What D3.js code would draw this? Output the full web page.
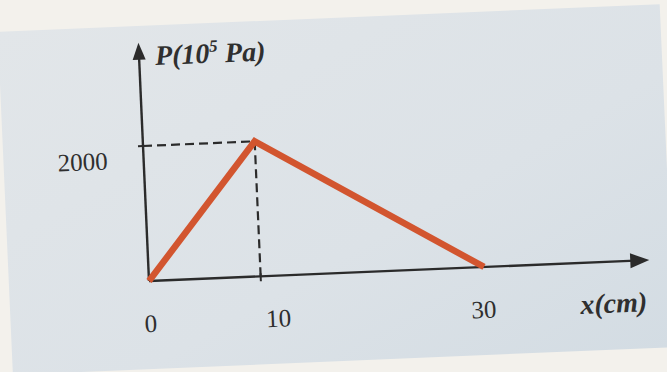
<!DOCTYPE html>
<html>
<head>
<meta charset="utf-8">
<script src="https://cdn.jsdelivr.net/npm/d3@7"></script>
<style>
  html, body { margin: 0; padding: 0; background: #f3f1ec; }
  svg { display: block; }
</style>
</head>
<body>
<svg id="chart" width="667" height="372"></svg>
<script>
// Pressure profile along the barrel
const positions = [0, 10, 30];      // x (cm)
const pressures = [0, 2000, 0];     // P (10^5 Pa)
const xTickValues = [0, 10, 30];
const yTickValues = [2000];
const xAxisEnd = 44.8;              // axis arrows run past the data
const yAxisEnd = 3530;

const W = 667, H = 372;
const svg = d3.select("#chart");

const defs = svg.append("defs");
const grad = defs.append("linearGradient")
  .attr("id", "panelFill").attr("x1", "0").attr("y1", "0").attr("x2", "1").attr("y2", "1");
grad.append("stop").attr("offset", "0").attr("stop-color", "#e2e6e9");
grad.append("stop").attr("offset", "0.6").attr("stop-color", "#dce2e7");
grad.append("stop").attr("offset", "1").attr("stop-color", "#d3dce3");

// page
svg.append("rect").attr("width", W).attr("height", H).attr("fill", "#f3f1ec");

// the figure sits slightly skewed on the page
const g = svg.append("g").attr("transform", "matrix(1,-0.0419,0.0444,1,149,281)");

const x = d3.scaleLinear().domain([0, 30]).range([0, 335]);
const y = d3.scaleLinear().domain([0, 2000]).range([0, -135]);

// tinted panel behind the figure
g.append("rect")
  .attr("x", -140).attr("y", -255).attr("width", 662).attr("height", 343)
  .attr("fill", "url(#panelFill)");

const ink = "#2b2b2b";

// axes
g.append("line")
  .attr("x1", x(0)).attr("y1", y(0)).attr("x2", x(xAxisEnd) - 14).attr("y2", y(0))
  .attr("stroke", ink).attr("stroke-width", 2.4);
g.append("line")
  .attr("x1", x(0)).attr("y1", y(0)).attr("x2", x(0)).attr("y2", y(yAxisEnd) + 12)
  .attr("stroke", ink).attr("stroke-width", 2.4);

// arrow heads
const xa = x(xAxisEnd), ya = y(yAxisEnd);
g.append("path")
  .attr("d", `M${xa},${y(0)} L${xa - 19},${y(0) - 7.5} L${xa - 19},${y(0) + 7.5} Z`)
  .attr("fill", ink);
g.append("path")
  .attr("d", `M${x(0)},${ya} L${x(0) - 6.5},${ya + 17} L${x(0) + 6.5},${ya + 17} Z`)
  .attr("fill", ink);

// small tick marks
g.selectAll(".xtick").data(xTickValues.filter(d => d !== 0 && d !== 30)).join("line")
  .attr("x1", d => x(d)).attr("x2", d => x(d))
  .attr("y1", y(0) - 3).attr("y2", y(0) + 5)
  .attr("stroke", ink).attr("stroke-width", 2);
g.selectAll(".ytick").data(yTickValues).join("line")
  .attr("x1", x(0)).attr("x2", x(0) - 5)
  .attr("y1", d => y(d)).attr("y2", d => y(d))
  .attr("stroke", ink).attr("stroke-width", 2);

// guide lines to the peak
const iPeak = pressures.indexOf(d3.max(pressures));
const px = positions[iPeak], pp = pressures[iPeak];
g.append("line")
  .attr("x1", x(0)).attr("y1", y(pp)).attr("x2", x(px)).attr("y2", y(pp))
  .attr("stroke", ink).attr("stroke-width", 2.2).attr("stroke-dasharray", "9,5");
g.append("line")
  .attr("x1", x(px)).attr("y1", y(pp)).attr("x2", x(px)).attr("y2", y(0))
  .attr("stroke", ink).attr("stroke-width", 2.2).attr("stroke-dasharray", "9,5");

// pressure curve
const line = d3.line().x((d, i) => x(positions[i])).y(d => y(d));
g.append("path")
  .datum(pressures)
  .attr("d", line)
  .attr("fill", "none")
  .attr("stroke", "#d2552f")
  .attr("stroke-width", 6.5)
  .attr("stroke-linejoin", "miter")
  .attr("stroke-linecap", "butt");

// tick labels
const serif = "'Liberation Serif', 'DejaVu Serif', serif";
const labelNudge = { 0: 0, 10: 16, 30: -2 };
g.selectAll(".xlabel").data(xTickValues).join("text")
  .attr("x", d => x(d) + labelNudge[d])
  .attr("y", y(0) + 51)
  .attr("text-anchor", "middle")
  .attr("font-family", serif).attr("font-size", 25).attr("fill", "#2f2f2f")
  .text(d => d);
g.selectAll(".ylabel").data(yTickValues).join("text")
  .attr("x", x(0) - 36)
  .attr("y", d => y(d) + 22)
  .attr("text-anchor", "end")
  .attr("font-family", serif).attr("font-size", 25).attr("fill", "#2f2f2f")
  .text(d => d);

// axis titles
g.append("text")
  .attr("x", x(xAxisEnd) - 4).attr("y", y(0) + 51)
  .attr("text-anchor", "end")
  .attr("font-family", serif).attr("font-size", 28)
  .attr("font-style", "italic").attr("font-weight", "bold").attr("fill", "#2f2f2f")
  .text("x(cm)");

const yt = g.append("text")
  .attr("x", x(0) + 16).attr("y", y(yAxisEnd) + 23)
  .attr("font-family", serif).attr("font-size", 28)
  .attr("font-style", "italic").attr("font-weight", "bold").attr("fill", "#2f2f2f");
yt.append("tspan").text("P(10");
yt.append("tspan").attr("font-size", 17).attr("dy", -11).text("5");
yt.append("tspan").attr("dy", 11).text(" Pa)");
</script>
</body>
</html>
